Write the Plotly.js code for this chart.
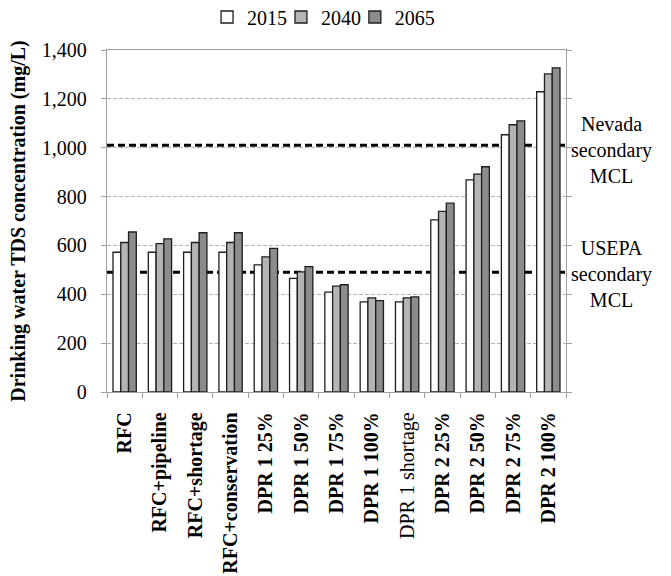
<!DOCTYPE html>
<html>
<head>
<meta charset="utf-8">
<script src="https://cdn.plot.ly/plotly-3.0.1.min.js"></script>
<style>
  html, body { margin: 0; padding: 0; background: #ffffff; }
  #chart { width: 671px; height: 576px; }
</style>
</head>
<body>
<div id="chart"></div>
<script>
// Drinking water TDS concentration by scenario (mg/L)
const scenarios = [
  "RFC", "RFC+pipeline", "RFC+shortage", "RFC+conservation",
  "DPR 1 25%", "DPR 1 50%", "DPR 1 75%", "DPR 1 100%", "DPR 1 shortage",
  "DPR 2 25%", "DPR 2 50%", "DPR 2 75%", "DPR 2 100%"
];
// Scenarios whose axis label is set in bold
const boldLabels = [true, true, true, true, true, true, true, true, false, true, true, true, true];

const years = ["2015", "2040", "2065"];
const tds2015 = [572, 572, 572, 572, 520, 465, 409, 369, 369, 705, 868, 1053, 1229];
const tds2040 = [612, 607, 612, 612, 553, 492, 433, 385, 385, 739, 892, 1094, 1302];
const tds2065 = [655, 627, 652, 652, 588, 513, 439, 374, 389, 773, 922, 1110, 1327];

// Regulatory limits (mg/L)
const nevadaMCL = 1010;
const usepaMCL = 490;

const fills = ["#ffffff", "#b4b4b4", "#8c8c8c"];
const series = [tds2015, tds2040, tds2065];

const serif = "Liberation Serif";

// One single-entry legend per year, laid out in a row above the plot
const legendIds = ["legend", "legend2", "legend3"];
const legendX = [0.218, 0.379, 0.540];

const traces = series.map((vals, i) => ({
  type: "bar",
  name: years[i],
  x: scenarios,
  y: vals,
  legend: legendIds[i],
  marker: { color: fills[i], line: { color: "#1e1e1e", width: 1.3 } },
  hoverinfo: "x+y+name"
}));

const tickText = scenarios.map((s, i) => boldLabels[i] ? "<b>" + s + "</b>" : s);

const layout = {
  width: 671,
  height: 576,
  margin: { l: 107, r: 105, t: 50, b: 184, autoexpand: false },
  paper_bgcolor: "#ffffff",
  plot_bgcolor: "#ffffff",
  font: { family: serif, size: 20, color: "#000000" },
  barmode: "group",
  bargap: 0.34,
  bargroupgap: 0,
  showlegend: true,
  xaxis: {
    type: "category",
    tickmode: "array",
    tickvals: scenarios,
    ticktext: tickText,
    tickangle: -90,
    tickfont: { family: serif, size: 20, color: "#000000" },
    ticks: "outside",
    tickson: "boundaries",
    ticklen: 5,
    tickcolor: "#a0a0a0",
    tickwidth: 1,
    ticklabelstandoff: 11,
    showline: true,
    linecolor: "#a0a0a0",
    linewidth: 1.3,
    mirror: true,
    showgrid: false,
    zeroline: false,
    automargin: false
  },
  yaxis: {
    range: [0, 1400],
    dtick: 200,
    tickformat: ",d",
    tickfont: { family: serif, size: 20, color: "#000000" },
    ticks: "outside",
    ticklen: 5,
    tickcolor: "#a0a0a0",
    tickwidth: 1,
    ticklabelstandoff: 10,
    showline: true,
    linecolor: "#a0a0a0",
    linewidth: 1.3,
    mirror: "allticks",
    showgrid: true,
    gridcolor: "#b4b4b4",
    gridwidth: 1,
    griddash: "4px,2px",
    zeroline: false,
    automargin: false,
    title: {
      text: "<b>Drinking water TDS concentration (mg/L)</b>",
      font: { family: serif, size: 20, color: "#000000" },
      standoff: 10
    }
  },
  shapes: [nevadaMCL, usepaMCL].map(v => ({
    type: "line",
    xref: "paper", x0: 0, x1: 1,
    yref: "y", y0: v, y1: v,
    layer: "below",
    line: { color: "#000000", width: 3, dash: "7px,4px" }
  })),
  annotations: [
    {
      text: "Nevada<br>secondary<br>MCL",
      xref: "paper", x: 1.10, xanchor: "center",
      yref: "y", y: 990, yanchor: "middle",
      showarrow: false,
      align: "center",
      font: { family: serif, size: 20, color: "#000000" }
    },
    {
      text: "USEPA<br>secondary<br>MCL",
      xref: "paper", x: 1.10, xanchor: "center",
      yref: "y", y: 483, yanchor: "middle",
      showarrow: false,
      align: "center",
      font: { family: serif, size: 20, color: "#000000" }
    }
  ]
};

legendIds.forEach((id, i) => {
  layout[id] = {
    orientation: "h",
    x: legendX[i], xanchor: "left",
    y: 1.0965, yanchor: "middle",
    font: { family: serif, size: 20, color: "#000000" },
    itemwidth: 30,
    bgcolor: "rgba(0,0,0,0)"
  };
});

Plotly.newPlot("chart", traces, layout, { displayModeBar: false, staticPlot: true });
</script>
</body>
</html>
